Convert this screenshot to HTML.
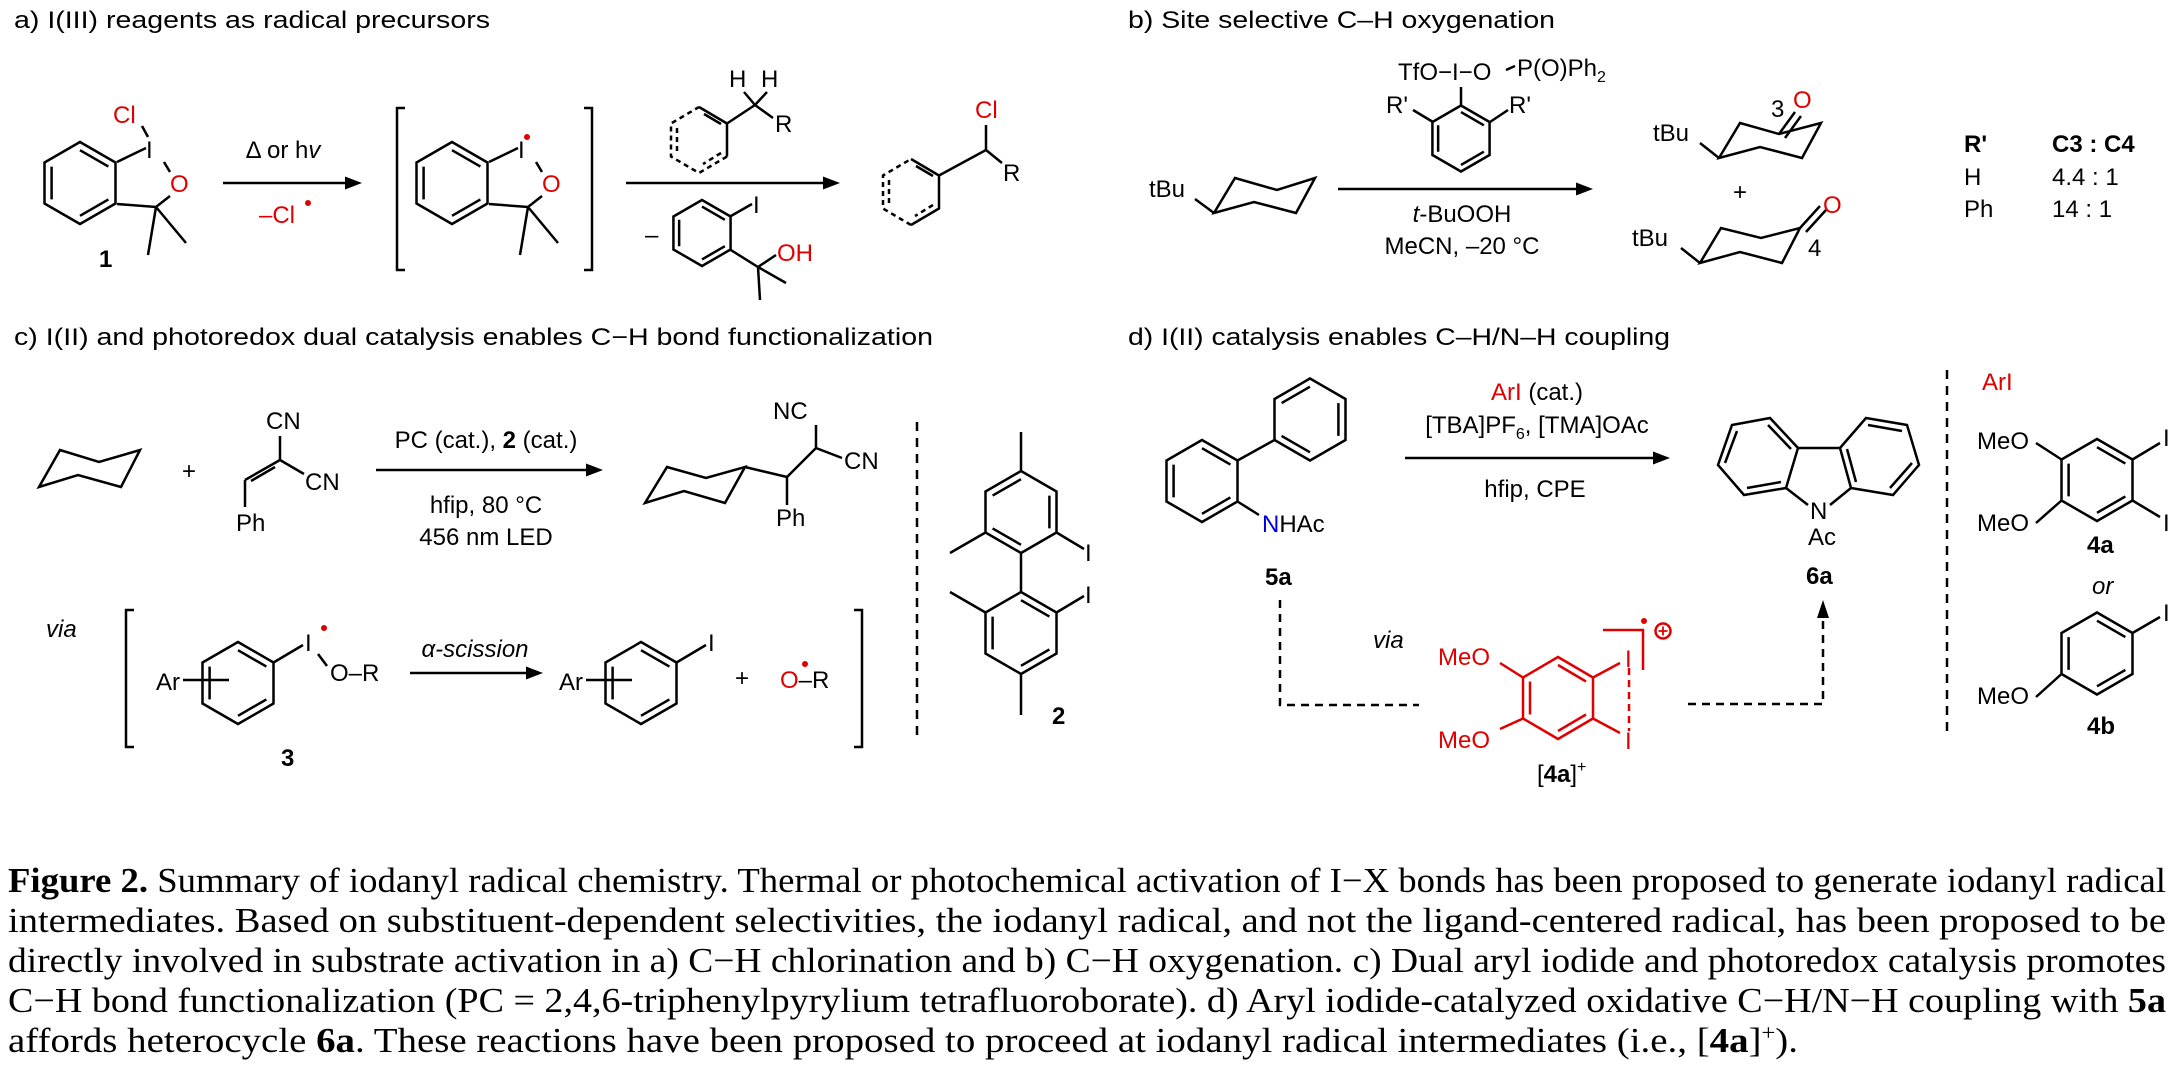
<!DOCTYPE html>
<html><head><meta charset="utf-8"><style>
html,body{margin:0;padding:0;background:#fff;}
svg{display:block;}
text{font-family:"Liberation Sans",Arial,sans-serif;font-size:24px;fill:#000;}
.t{font-size:24px;}
.r{fill:#e00000;}
.b{font-weight:bold;}
.i{font-style:italic;}
.cap{font-family:"Liberation Serif","Times New Roman",serif;font-size:35px;}
</style></head><body>
<svg width="2177" height="1071" viewBox="0 0 2177 1071" xmlns="http://www.w3.org/2000/svg">
<defs>
<g id="hA" fill="none" stroke="#000" stroke-width="2.5">
<polygon points="0,-41 35.5,-20.5 35.5,20.5 0,41 -35.5,20.5 -35.5,-20.5" vector-effect="non-scaling-stroke"/>
<path d="M0,-32.8 L28.4,-16.4 M28.4,16.4 L0,32.8 M-28.4,16.4 L-28.4,-16.4" vector-effect="non-scaling-stroke"/>
</g>
<g id="hB" fill="none" stroke="#000" stroke-width="2.5">
<polygon points="0,-41 35.5,-20.5 35.5,20.5 0,41 -35.5,20.5 -35.5,-20.5" vector-effect="non-scaling-stroke"/>
<path d="M28.4,-16.4 L28.4,16.4 M0,32.8 L-28.4,16.4 M-28.4,-16.4 L0,-32.8" vector-effect="non-scaling-stroke"/>
</g>
</defs>
<g stroke="#000" stroke-width="2.5" fill="none">
<!-- PANEL A -->
<use href="#hA" transform="translate(80,183)"/>
<path d="M117,162 L146,148 M142,126 L148,137 M164,162 L170,172 M170,196 L156,207 L117,204 M156,207 L148,255 M156,207 L186,243"/>
<path d="M223,183 H350"/>
<path d="M405,108 H397 V270 H405 M584,108 H592 V270 H584"/>
<use href="#hA" transform="translate(452,183)"/>
<path d="M489,162 L518,148 M536,162 L542,172 M542,196 L528,207 L489,204 M528,207 L520,255 M528,207 L558,243"/>
<path d="M626,183 H828"/>
<!-- toluene -->
<path d="M699,107 L727,123.5 L727,156.5 M704,114 L721,124 M727,123.5 L755,105 L773,118 M755,105 L744,92 M755,105 L767,92"/>
<path d="M727,156.5 L699,173 L671,156.5 L671,123.5 L699,107 M677,128 L677,152 M721,153 L703,164" stroke-dasharray="5 4"/>
<!-- iodo alcohol -->
<use href="#hA" transform="translate(702,233) scale(0.805)"/>
<path d="M730,216.5 L752,204 M730,249.5 L758,267 L776,255 M758,267 L760,300 M758,267 L786,283"/>
<!-- product -->
<path d="M911,159 L939,175.5 L939,208.5 L911,225 M916,166 L933,176 M939,175.5 L986,150 L986,125 M986,150 L1002,163"/>
<path d="M911,225 L883,208.5 L883,175.5 L911,159 M889,180 L889,204 M933,205 L915,216" stroke-dasharray="5 4"/>
<!-- PANEL B -->
<polygon points="1214,213 1235,178 1277,190 1315,178 1296,213 1254,202"/>
<path d="M1195,199 L1214,213"/>
<path d="M1338,189 H1581"/>
<use href="#hA" transform="translate(1461,138.5) scale(0.805)"/>
<path d="M1461,106 V87 M1433,122 L1413,110 M1490,122 L1508,110 M1506,70 L1515,66"/>
<polygon points="1719,158 1740,123 1779,134 1821,123 1802,158 1760,147"/>
<path d="M1700,143 L1719,158 M1779,134 L1795,112 M1785,138 L1801,116"/>
<polygon points="1700,263 1721,228 1761,238 1800,228 1782,263 1740,252"/>
<path d="M1681,248 L1700,263 M1800,228 L1820,206 M1806,232 L1826,210"/>
<!-- PANEL C -->
<polygon points="39,487 60,450 99,462 140,450 121,487 78,475"/>
<path d="M280,460 V436 M280,460 L304,474 M280,460 L245,480 M275,467 L251,481 M245,480 V507"/>
<path d="M376,470 H591"/>
<polygon points="645,503 667,467 706,478 745,467 725,503 684,491"/>
<path d="M745,467 L787,477 L816,448 V425 M816,448 L842,458 M787,477 V505"/>
<path d="M917,422 V740" stroke-dasharray="9 7"/>
<use href="#hB" transform="translate(1021,512)"/>
<use href="#hA" transform="translate(1021,633)"/>
<path d="M1021,471 V432 M985.5,532.5 L950,553 M1056.5,532.5 L1084,549 M1021,553 V592 M985.5,612.5 L950,592 M1056.5,612.5 L1084,596 M1021,674 V715"/>
<path d="M134,610 H126 V747 H134 M854,610 H862 V747 H854"/>
<use href="#hA" transform="translate(238,683)"/>
<path d="M183,680 H229 M273.5,662.5 L303,645 M318,654 L327,666"/>
<path d="M410,673 H531"/>
<use href="#hA" transform="translate(641,683)"/>
<path d="M586,680 H632 M676.5,662.5 L706,645"/>
<!-- PANEL D -->
<use href="#hA" transform="translate(1202,481)"/>
<use href="#hB" transform="translate(1310,419.5)"/>
<path d="M1237.5,460.5 L1274.5,440 M1237.5,501.5 L1259,515"/>
<path d="M1405,458 H1658"/>
<polygon points="1770,418 1798,448 1786,488 1744,495 1718,465 1732,425"/>
<polygon points="1866,418 1907,425 1919,465 1893,495 1851,488 1840,448"/>
<path d="M1798,448 L1840,448 M1786,488 L1808,505 M1851,488 L1830,505"/>
<path d="M1768,425 L1791,449 M1737,431 L1725,463 M1747,488 L1781,482 M1868,425 L1902,431 M1912,463 L1890,488 M1847,449 L1856,482"/>
<path d="M1280,600 V705 H1419" stroke-dasharray="8 6"/>
<path d="M1688,704 H1823 V618" stroke-dasharray="8 6"/>
<path d="M1947,370 V738" stroke-dasharray="9 7"/>
<use href="#hA" transform="translate(2097,480)"/>
<path d="M2036,443 L2061.5,459.5 M2036,523 L2061.5,500.5 M2132.5,459.5 L2160,443 M2132.5,500.5 L2160,517"/>
<use href="#hA" transform="translate(2097,653.5)"/>
<path d="M2132.5,633 L2160,617 M2036,697 L2061.5,674"/>
</g>
<!-- red 4a+ -->
<g stroke="#e00000" stroke-width="2.5" fill="none">
<polygon points="1558,657 1593,677.5 1593,718.5 1558,739 1523,718.5 1523,677.5"/>
<path d="M1558,665 L1586,681.5 M1586,714.5 L1558,731 M1530,714.5 L1530,681.5"/>
<path d="M1500,663 L1523,677.5 M1500,729 L1523,718.5 M1593,677.5 L1620,663 M1593,718.5 L1620,733"/>
<path d="M1629,668 V731" stroke-dasharray="7 5"/>
<path d="M1603,630 H1643 V670"/>
<circle cx="1663" cy="631" r="7.5"/>
<path d="M1658.5,631 H1667.5 M1663,626.5 V635.5" stroke-width="1.8"/>
</g>
<circle cx="1644" cy="621" r="3" fill="#e00000"/>
<!-- arrowheads -->
<g fill="#000">
<polygon points="362,183 345,176.5 345,189.5"/>
<polygon points="840,183 823,176.5 823,189.5"/>
<polygon points="1593,189 1576,182.5 1576,195.5"/>
<polygon points="603,470 586,463.5 586,476.5"/>
<polygon points="543,673 526,666.5 526,679.5"/>
<polygon points="1670,458 1653,451.5 1653,464.5"/>
<polygon points="1823,600 1817,618 1829,618"/>
</g>
<g fill="#e00000">
<circle cx="308" cy="203" r="3"/>
<circle cx="527" cy="137" r="3"/>
<circle cx="324" cy="628" r="3"/>
<circle cx="805" cy="664" r="3"/>
</g>
<!-- TEXT -->
<text x="14" y="28" textLength="476" lengthAdjust="spacingAndGlyphs">a) I(III) reagents as radical precursors</text>
<text x="1128" y="28" textLength="427" lengthAdjust="spacingAndGlyphs">b) Site selective C–H oxygenation</text>
<text x="14" y="345" textLength="919" lengthAdjust="spacingAndGlyphs">c) I(II) and photoredox dual catalysis enables C−H bond functionalization</text>
<text x="1128" y="345" textLength="542" lengthAdjust="spacingAndGlyphs">d) I(II) catalysis enables C–H/N–H coupling</text>
<!-- a -->
<text x="113" y="123" class="r">Cl</text>
<text x="146" y="158">I</text>
<text x="170" y="192" class="r">O</text>
<text x="99" y="267" class="b">1</text>
<text x="283" y="158" text-anchor="middle">Δ or h<tspan class="i">v</tspan></text>
<text x="259" y="223" class="r">–Cl</text>
<text x="518" y="158">I</text>
<text x="542" y="192" class="r">O</text>
<text x="729" y="87">H</text><text x="761" y="87">H</text>
<text x="775" y="132">R</text>
<text x="645" y="243">–</text>
<text x="753" y="213">I</text>
<text x="777" y="261" class="r">OH</text>
<text x="975" y="118" class="r">Cl</text>
<text x="1003" y="181">R</text>
<!-- b -->
<text x="1149" y="197">tBu</text>
<text x="1398" y="80">TfO−I−O</text>
<text x="1517" y="76">P(O)Ph<tspan font-size="16" dy="6">2</tspan></text>
<text x="1386" y="113">R'</text>
<text x="1509" y="113">R'</text>
<text x="1462" y="222" text-anchor="middle"><tspan class="i">t</tspan>-BuOOH</text>
<text x="1462" y="254" text-anchor="middle">MeCN, –20 °C</text>
<text x="1653" y="141">tBu</text>
<text x="1771" y="117">3</text>
<text x="1793" y="108" class="r">O</text>
<text x="1733" y="200">+</text>
<text x="1632" y="246">tBu</text>
<text x="1823" y="213" class="r">O</text>
<text x="1808" y="256">4</text>
<text x="1964" y="152" class="b">R'</text>
<text x="2052" y="152" class="b">C3 : C4</text>
<text x="1964" y="185">H</text>
<text x="2052" y="185">4.4 : 1</text>
<text x="1964" y="217">Ph</text>
<text x="2052" y="217">14  : 1</text>
<!-- c -->
<text x="182" y="479">+</text>
<text x="266" y="429">CN</text>
<text x="305" y="490">CN</text>
<text x="236" y="531">Ph</text>
<text x="486" y="448" text-anchor="middle">PC (cat.), <tspan class="b">2</tspan> (cat.)</text>
<text x="486" y="513" text-anchor="middle">hfip,  80 °C</text>
<text x="486" y="545" text-anchor="middle">456 nm LED</text>
<text x="773" y="419">NC</text>
<text x="844" y="469">CN</text>
<text x="776" y="526">Ph</text>
<text x="1085" y="561">I</text>
<text x="1085" y="603">I</text>
<text x="1052" y="724" class="b">2</text>
<text x="46" y="637" class="i">via</text>
<text x="156" y="690">Ar</text>
<text x="305" y="651">I</text>
<text x="330" y="681">O–R</text>
<text x="475" y="657" text-anchor="middle" class="i">α-scission</text>
<text x="281" y="766" class="b">3</text>
<text x="559" y="690">Ar</text>
<text x="708" y="651">I</text>
<text x="735" y="686">+</text>
<text x="780" y="688"><tspan class="r">O</tspan>–R</text>
<!-- d -->
<text x="1262" y="532"><tspan fill="#0000dd">N</tspan>HAc</text>
<text x="1265" y="585" class="b">5a</text>
<text x="1537" y="400" text-anchor="middle"><tspan class="r">ArI</tspan> (cat.)</text>
<text x="1537" y="433" text-anchor="middle">[TBA]PF<tspan font-size="16" dy="6">6</tspan><tspan dy="-6">, [TMA]OAc</tspan></text>
<text x="1535" y="497" text-anchor="middle">hfip, CPE</text>
<text x="1810" y="519" fill="#0000dd">N</text>
<text x="1808" y="545">Ac</text>
<text x="1806" y="584" class="b">6a</text>
<text x="1373" y="648" class="i">via</text>
<text x="1438" y="665" class="r">MeO</text>
<text x="1438" y="748" class="r">MeO</text>
<text x="1625" y="667" class="r">I</text>
<text x="1625" y="749" class="r">I</text>
<text x="1537" y="782">[<tspan class="b">4a</tspan>]<tspan font-size="16" dy="-10">+</tspan></text>
<text x="1982" y="390" class="r">ArI</text>
<text x="1977" y="449">MeO</text>
<text x="1977" y="531">MeO</text>
<text x="2163" y="446">I</text>
<text x="2163" y="531">I</text>
<text x="2087" y="553" class="b">4a</text>
<text x="2092" y="594" class="i">or</text>
<text x="2163" y="621">I</text>
<text x="1977" y="704">MeO</text>
<text x="2087" y="734" class="b">4b</text>
<!-- caption -->
<text class="cap" x="8" y="892" textLength="2158" lengthAdjust="spacingAndGlyphs"><tspan font-weight="bold">Figure 2.</tspan> Summary of iodanyl radical chemistry. Thermal or photochemical activation of I−X bonds has been proposed to generate iodanyl radical</text>
<text class="cap" x="8" y="932" textLength="2158" lengthAdjust="spacingAndGlyphs">intermediates. Based on substituent-dependent selectivities, the iodanyl radical, and not the ligand-centered radical, has been proposed to be</text>
<text class="cap" x="8" y="972" textLength="2158" lengthAdjust="spacingAndGlyphs">directly involved in substrate activation in a) C−H chlorination and b) C−H oxygenation. c) Dual aryl iodide and photoredox catalysis promotes</text>
<text class="cap" x="8" y="1012" textLength="2158" lengthAdjust="spacingAndGlyphs">C−H bond functionalization (PC = 2,4,6-triphenylpyrylium tetrafluoroborate). d) Aryl iodide-catalyzed oxidative C−H/N−H coupling with <tspan font-weight="bold">5a</tspan></text>
<text class="cap" x="8" y="1052" textLength="1790" lengthAdjust="spacingAndGlyphs">affords heterocycle <tspan font-weight="bold">6a</tspan>. These reactions have been proposed to proceed at iodanyl radical intermediates (i.e., [<tspan font-weight="bold">4a</tspan>]<tspan font-size="22" dy="-12">+</tspan><tspan dy="12">).</tspan></text>
</svg>
</body></html>
